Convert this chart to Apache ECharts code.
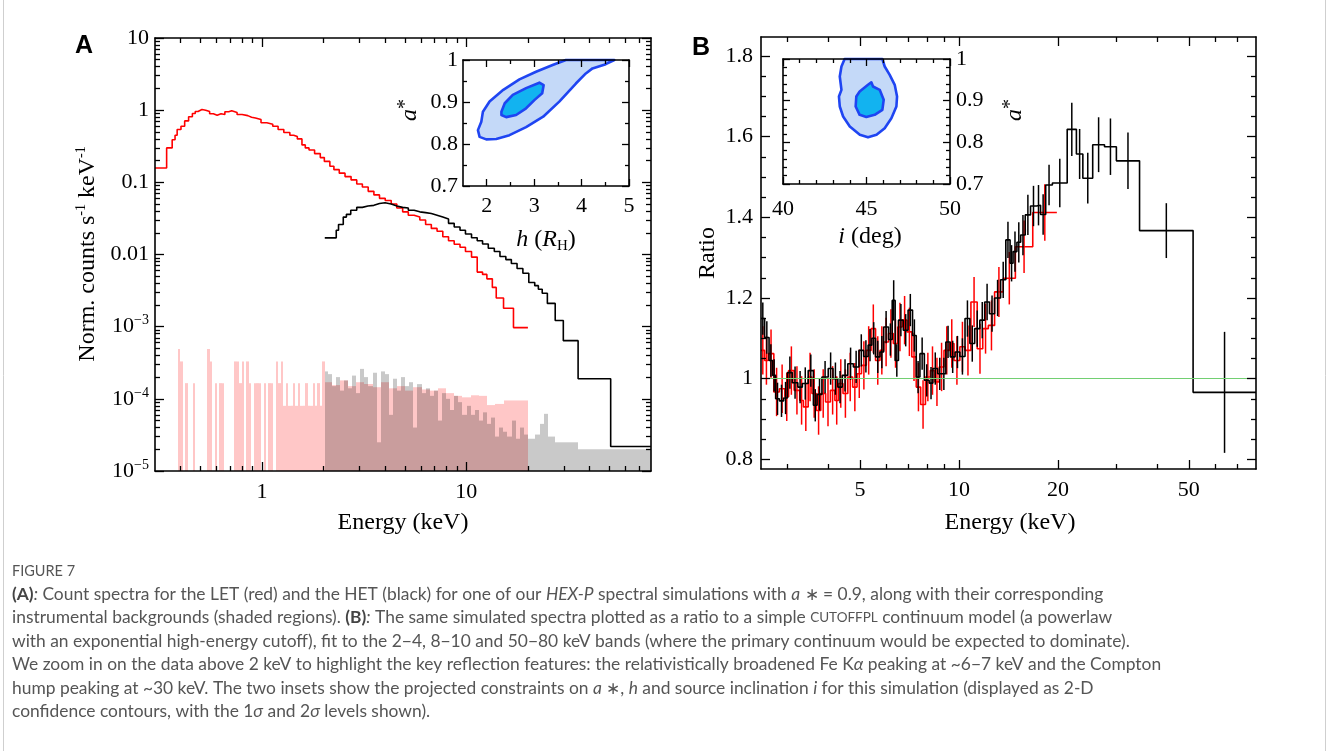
<!DOCTYPE html>
<html><head><meta charset="utf-8">
<script src="https://cdn.jsdelivr.net/npm/echarts@6/dist/echarts.min.js"></script>
<style>html,body{margin:0;padding:0;background:#fff}#c{width:1327px;height:751px}</style>
</head><body><div id="c"></div>
<script>
// ===== Panel A: count spectra (bin edges + values) =====
const letEdges = [0.30,0.342,0.364,0.376,0.385,0.402,0.419,0.438,0.457,0.472,0.487,0.509,0.531,0.555,0.579,0.604,0.631,0.659,0.688,0.712,0.727,0.756,0.80,0.853,0.89,0.93,0.99,1.057,1.13,1.20,1.28,1.37,1.43,1.49,1.57,1.63,1.70,1.81,1.93,2.02,2.15,2.25,2.39,2.55,2.73,2.91,3.10,3.31,3.53,3.76,4.01,4.29,4.57,4.88,5.20,5.55,5.92,6.32,6.74,7.19,7.67,8.18,8.72,9.31,9.9,10.6,11.3,12.0,12.6,13.4,14.0,15.2,17.0,20.0];
const letCounts = [0.158,0.30,0.39,0.45,0.54,0.60,0.71,0.81,0.90,0.96,1.02,1.00,0.96,0.89,0.85,0.89,0.87,0.95,0.98,1.04,0.93,0.87,0.84,0.80,0.78,0.74,0.67,0.64,0.60,0.54,0.49,0.45,0.43,0.40,0.33,0.30,0.28,0.25,0.22,0.195,0.167,0.15,0.134,0.12,0.108,0.095,0.086,0.075,0.067,0.060,0.056,0.050,0.044,0.039,0.035,0.033,0.030,0.026,0.023,0.021,0.0176,0.0155,0.0139,0.0126,0.011,0.0092,0.0057,0.0053,0.0046,0.0035,0.0025,0.0018,0.00097];
const hetEdges = [2.03,2.31,2.37,2.50,2.59,2.72,2.91,3.10,3.30,3.53,3.76,4.0,4.29,4.57,4.88,5.20,5.55,5.92,6.32,6.74,7.19,7.67,8.18,8.72,9.31,9.9,10.6,11.3,12.0,12.8,13.7,14.6,15.6,16.6,17.7,18.9,20.2,21.6,22.5,23.5,24.9,27.2,29.8,35.2,50.8,80];
const hetCounts = [0.017,0.0217,0.026,0.033,0.036,0.041,0.045,0.047,0.048,0.051,0.052,0.050,0.047,0.045,0.044,0.041,0.039,0.038,0.037,0.035,0.033,0.031,0.027,0.024,0.0217,0.0192,0.0171,0.0155,0.014,0.0122,0.011,0.0094,0.0085,0.0075,0.0064,0.0055,0.0041,0.0037,0.0033,0.0029,0.0021,0.00122,0.00064,0.00019,0.0000218];

// instrumental backgrounds (0 = empty bin)
const letBgEdges = [0.388,0.399,0.410,0.421,0.433,0.445,0.458,0.471,0.484,0.497,0.511,0.526,0.540,0.555,0.571,0.587,0.603,0.620,0.637,0.655,0.674,0.693,0.712,0.732,0.752,0.773,0.795,0.817,0.840,0.864,0.888,0.913,0.938,0.964,0.991,1.019,1.048,1.077,1.107,1.138,1.170,1.203,1.236,1.271,1.306,1.343,1.380,1.419,1.459,1.499,1.541,1.585,1.629,1.675,1.721,1.770,1.819,1.870,1.923,1.976,2.03,2.2,2.4,2.64,2.89,3.17,3.48,3.81,4.18,4.58,5.02,5.51,6.04,6.62,7.26,7.96,8.73,9.57,10.5,11.5,12.6,13.8,15.2,16.6,18.2,20.0];
const letBgVals = [4.9e-4,3.3e-4,0,1.65e-4,0,0,1.65e-4,0,0,0,0,0,4.9e-4,3.3e-4,0,1.65e-4,0,1.65e-4,1.65e-4,0,0,0,0,3.3e-4,3.3e-4,1.65e-4,3.3e-4,0,3.3e-4,1.65e-4,0,1.65e-4,1.65e-4,1.65e-4,0,1.65e-4,0,1.65e-4,1.65e-4,0,3.3e-4,1.65e-4,3.3e-4,8e-5,1.65e-4,8e-5,8e-5,1.65e-4,8e-5,1.65e-4,8e-5,8e-5,1.65e-4,8e-5,8e-5,1.65e-4,8e-5,1.65e-4,8e-5,3.3e-4,1.7e-4,1.55e-4,1.8e-4,1.5e-4,1.7e-4,1.6e-4,1.45e-4,1.7e-4,1.4e-4,1.5e-4,1.3e-4,1.45e-4,1.35e-4,1.3e-4,1.4e-4,1.2e-4,1.1e-4,1.05e-4,1.12e-4,1.1e-4,8.2e-5,8.5e-5,9.5e-5,9.5e-5,9.5e-5];
const hetBgEdges = [2.03,2.094,2.193,2.296,2.404,2.518,2.636,2.760,2.890,3.027,3.170,3.319,3.475,3.639,3.811,3.990,4.178,4.375,4.582,4.798,5.024,5.261,5.509,5.768,6.040,6.325,6.623,6.936,7.262,7.605,7.962,8.337,8.730,9.141,9.572,10.02,10.50,10.99,11.51,12.05,12.62,13.22,13.84,14.49,15.17,15.89,16.64,17.42,18.24,19.10,20.0,21.6,22.9,23.9,25.0,27.2,35.2,80];
const hetBgVals = [2.4e-4,2.2e-4,1.5e-4,2.0e-4,1.3e-4,1.8e-4,1.4e-4,2.1e-4,1.2e-4,2.6e-4,2.0e-4,1.5e-4,2.3e-4,2.5e-5,2.4e-4,2.2e-4,6e-5,1.9e-4,1.3e-4,2.0e-4,1.5e-4,1.7e-4,4e-5,1.6e-4,1.2e-4,1.4e-4,1.1e-4,1.3e-4,5e-5,1.2e-4,1.0e-4,7e-5,1.1e-4,9e-5,6e-5,8e-5,6e-5,7e-5,5e-5,6.5e-5,4.5e-5,5.5e-5,3e-5,4e-5,3.5e-5,3e-5,5e-5,2.8e-5,4e-5,3.2e-5,2.8e-5,3.2e-5,4.5e-5,6.2e-5,3.0e-5,2.5e-5,2.0e-5];

// ===== Panel B: ratio spectra =====
const hetRatioEdges = [2.5,2.564,2.645,2.713,2.77,2.843,2.93,3.009,3.112,3.236,3.339,3.479,3.608,3.703,3.83,4.003,4.139,4.281,4.416,4.591,4.773,4.962,5.13,5.293,5.433,5.575,5.751,5.902,6.105,6.265,6.395,6.546,6.771,7.002,7.223,7.413,7.607,7.846,8.115,8.329,8.613,8.87,9.12,9.407,9.73,10.06,10.43,10.79,11.16,11.57,11.97,12.38,12.83,13.38,13.88,14.3,14.6,15.0,15.4,15.9,16.5,17.2,17.7,18.35,19.23,21.33,22.75,23.8,25.5,27.7,30.1,35.4,51.5,80];
const hetRatio = [1.149,1.102,1.045,1.008,0.95,0.945,0.952,1.015,0.99,0.979,0.988,1.02,0.934,0.961,1.004,1.025,1.0,0.979,1.008,1.037,1.029,1.07,1.055,1.083,1.10,1.054,1.066,1.128,1.097,1.194,1.045,1.145,1.12,1.17,1.107,1.004,1.062,0.996,0.989,1.025,1.012,1.012,1.091,1.054,1.066,1.055,1.149,1.087,1.124,1.145,1.19,1.161,1.20,1.245,1.344,1.286,1.315,1.338,1.356,1.406,1.428,1.43,1.407,1.48,1.485,1.618,1.557,1.497,1.58,1.575,1.54,1.367,0.966];
const hetRatioErr = [
  0.04,0.04,0.04,0.04,0.04,0.04,0.04,0.04,0.04,0.04,
  0.04,0.04,0.04,0.04,0.04,0.04,0.04,0.04,0.04,0.04,
  0.04,0.04,0.04,0.04,0.04,0.04,0.04,0.04,0.04,0.05,
  0.04,0.04,0.04,0.04,0.04,0.04,0.04,0.04,0.04,0.04,
  0.04,0.04,0.04,0.04,0.04,
  0.045,0.045,0.045,0.045,0.045,0.045,0.045,0.045,0.045,0.045,0.045,
  0.05,0.05,0.05,0.05,0.05,0.05,0.05,0.05,
  0.06,0.066,0.062,0.063,0.068,0.07,0.07,0.068,0.15];
const letRatioEdges = [2.5,2.564,2.63,2.735,2.843,2.955,3.033,3.153,3.279,3.365,3.479,3.571,3.684,3.80,3.93,4.064,4.193,4.303,4.439,4.591,4.749,4.898,5.052,5.225,5.403,5.575,5.751,5.902,6.105,6.313,6.512,6.718,6.948,7.185,7.413,7.645,7.907,8.178,8.437,8.704,9.002,9.359,9.655,10.06,10.43,10.87,11.36,11.81,12.28,12.83,13.63,14.84,16.76,19.84];
const letRatio = [1.07,1.045,1.062,0.967,0.975,0.955,1.02,0.971,0.946,0.93,1.004,0.963,0.921,0.963,0.942,0.971,0.946,0.988,0.963,1.004,0.979,1.012,1.033,1.07,1.124,1.045,1.07,1.091,1.112,1.087,1.128,1.145,1.116,1.054,0.979,0.936,1.004,1.02,0.992,1.029,1.07,1.087,1.045,1.079,1.07,1.19,1.074,1.124,1.132,1.215,1.249,1.327,1.412];
const letRatioErr = [
  0.06,0.06,0.06,0.06,0.06,0.06,0.06,0.06,0.06,0.06,
  0.06,0.06,0.06,0.06,0.06,0.06,0.06,0.06,0.06,0.06,
  0.06,0.06,0.06,0.06,0.06,0.06,0.06,0.06,0.06,0.06,
  0.06,0.06,0.06,0.06,0.06,0.06,0.06,0.06,0.06,0.06,
  0.06,0.06,0.06,
  0.062,0.062,0.062,0.062,0.062,0.062,0.062,
  0.065,0.065,0.07];
const unityRatio = 1;

// ===== Insets: 1-sigma / 2-sigma contours =====
const inAOuterH = [1.815,1.886,1.92,2.06,2.35,2.69,3.04,3.39,3.67,4.66,4.69,4.51,4.23,4.09,3.88,3.53,3.19,2.83,2.48,2.2,1.99,1.85];
const inAOuterA = [0.833,0.853,0.877,0.901,0.929,0.954,0.972,0.988,1.0,1.0,1.0,0.99,0.98,0.968,0.944,0.901,0.865,0.84,0.821,0.812,0.811,0.817];
const inAInnerH = [2.31,2.38,2.55,2.83,3.11,3.2,3.17,3.01,2.83,2.62,2.41,2.31];
const inAInnerA = [0.877,0.897,0.917,0.933,0.946,0.94,0.921,0.905,0.885,0.869,0.864,0.869];
const inBOuterI = [43.69,43.5,43.4,43.5,43.35,43.4,43.6,44.0,44.6,45.09,45.6,46.09,46.49,46.79,46.83,46.69,46.39,46.09,45.95];
const inBOuterA = [1.0,0.982,0.958,0.926,0.91,0.886,0.862,0.838,0.818,0.812,0.818,0.834,0.858,0.886,0.91,0.938,0.962,0.982,1.0];
const inBInnerI = [44.39,44.59,45.09,45.29,45.39,45.79,46.03,45.95,45.49,44.99,44.59,44.35];
const inBInnerA = [0.91,0.922,0.938,0.944,0.934,0.926,0.902,0.878,0.866,0.861,0.866,0.886];

// ===== Ticks and tick labels =====
const aXMajor = [1, 10];
const aXMajorText = ['1', '10'];
const aXMinor = [0.4,0.5,0.6,0.7,0.8,0.9,2,3,4,5,6,7,8,9,20,30,40,50,60,70];
const aYMajor = [1e-5,1e-4,1e-3,0.01,0.1,1,10];
const aYMajorText = ['{b|10}{s|\u22125}','{b|10}{s|\u22124}','{b|10}{s|\u22123}','0.01','0.1','1','10'];
const aYMinor = [2e-5,3e-5,4e-5,5e-5,6e-5,7e-5,8e-5,9e-5,2e-4,3e-4,4e-4,5e-4,6e-4,7e-4,8e-4,9e-4,2e-3,3e-3,4e-3,5e-3,6e-3,7e-3,8e-3,9e-3,0.02,0.03,0.04,0.05,0.06,0.07,0.08,0.09,0.2,0.3,0.4,0.5,0.6,0.7,0.8,0.9,2,3,4,5,6,7,8,9];
const bXMajor = [5,10,20,50];
const bXMajorText = ['5','10','20','50'];
const bXMinor = [3,4,6,7,8,9,30,40,60,70];
const bYMajor = [0.8,1,1.2,1.4,1.6,1.8];
const bYMajorText = ['0.8','1','1.2','1.4','1.6','1.8'];
const bYMinor = [0.85,0.9,0.95,1.05,1.1,1.15,1.25,1.3,1.35,1.45,1.5,1.55,1.65,1.7,1.75];
const iaXMajor = [2,3,4,5], iaXMinor = [2.5,3.5,4.5];
const iaYMajor = [0.7,0.8,0.9,1], iaYMinor = [0.75,0.85,0.95];
const ibXMajor = [40,45,50], ibXMinor = [41,42,43,44,46,47,48,49];
const ibYMajor = [0.7,0.8,0.9,1], ibYMinor = [0.72,0.74,0.76,0.78,0.82,0.84,0.86,0.88,0.92,0.94,0.96,0.98];

const captionLines = [
 '{b|(A)}{it|:}{n| Count spectra for the LET (red) and the HET (black) for one of our }{it|HEX-P}{n| spectral simulations with }{it|a}{n| \u2217 = 0.9, along with their corresponding}',
 '{n|instrumental backgrounds (shaded regions). }{b|(B)}{it|:}{n| The same simulated spectra plotted as a ratio to a simple }{sc|CUTOFFPL}{n| continuum model (a powerlaw}',
 '{n|with an exponential high-energy cutoff), fit to the 2\u22124, 8\u221210 and 50\u221280 keV bands (where the primary continuum would be expected to dominate).}',
 '{n|We zoom in on the data above 2 keV to highlight the key reflection features: the relativistically broadened Fe K}{it|\u03b1}{n| peaking at ~6\u22127 keV and the Compton}',
 '{n|hump peaking at ~30 keV. The two insets show the projected constraints on }{it|a}{n| \u2217, }{it|h}{n| and source inclination }{it|i}{n| for this simulation (displayed as 2-D}',
 '{n|confidence contours, with the 1}{it|\u03c3}{n| and 2}{it|\u03c3}{n| levels shown).}'
];

// ===== build =====
const SERIF = 'Liberation Serif';
const lg = a => a.map(v => Math.log10(v));
function stepData(edges, vals) {
  const n = Math.min(vals.length, edges.length - 1);
  const d = [];
  for (let i = 0; i < n; i++) d.push([edges[i], vals[i]]);
  d.push([edges[n], vals[n - 1]]);
  return d;
}
function binData(edges, vals) {
  const d = [];
  for (let i = 0; i < vals.length && i + 1 < edges.length; i++) if (vals[i] > 0) d.push([edges[i], edges[i + 1], vals[i]]);
  return d;
}
function errData(edges, vals, errs) {
  const d = [];
  for (let i = 0; i < vals.length && i + 1 < edges.length && i < errs.length; i++) d.push([Math.sqrt(edges[i] * edges[i + 1]), vals[i] - errs[i], vals[i] + errs[i]]);
  return d;
}
function labelFmt(ticks, texts, isLog) {
  return v => {
    let best = 0, bd = Infinity;
    ticks.forEach((t, i) => { const tv = isLog ? Math.log10(t) : t; const dd = Math.abs(tv - v); if (dd < bd) { bd = dd; best = i; } });
    return texts[best];
  };
}
const xAxes = [], yAxes = [];
function addAxis(list, o) { list.push(o); return list.length - 1; }
function dataAxis(type, grid, min, max) {
  return { type, logBase: 10, gridIndex: grid, min, max, axisLine: {show: false, onZero: false}, axisTick: {show: false},
    axisLabel: {show: false}, splitLine: {show: false}, axisPointer: {show: false} };
}
function tickAxis(grid, position, min, max, ticks, len, line, label) {
  const ax = { type: 'value', gridIndex: grid, position, min, max, z: 6, silent: true,
    axisLine: {show: !!line, onZero: false, lineStyle: {color: '#000', width: 1.6}},
    splitLine: {show: false}, axisPointer: {show: false},
    axisTick: {show: true, inside: true, length: len, customValues: ticks, lineStyle: {color: '#000', width: 1.3}},
    axisLabel: {show: false} };
  if (label) ax.axisLabel = Object.assign({show: true, customValues: ticks, color: '#000', fontFamily: SERIF, fontSize: 22}, label);
  return ax;
}

const grids = [
  {left: 155, top: 38, width: 496, height: 433},
  {left: 463, top: 60, width: 166, height: 126, show: true, backgroundColor: '#fff', borderWidth: 0},
  {left: 761, top: 37, width: 495, height: 432},
  {left: 783, top: 59, width: 167, height: 125, show: true, backgroundColor: '#fff', borderWidth: 0}
];

// Panel A axes
const aX = addAxis(xAxes, dataAxis('log', 0, 0.3, 80));
const aY = addAxis(yAxes, dataAxis('log', 0, 1e-5, 10));
const aLx = [Math.log10(0.3), Math.log10(80)], aLy = [-5, 1];
addAxis(xAxes, tickAxis(0, 'bottom', aLx[0], aLx[1], lg(aXMajor), 9, true, {margin: 10, formatter: labelFmt(aXMajor, aXMajorText, true)}));
addAxis(xAxes, tickAxis(0, 'bottom', aLx[0], aLx[1], lg(aXMinor), 5));
addAxis(xAxes, tickAxis(0, 'top', aLx[0], aLx[1], lg(aXMajor), 9, true));
addAxis(xAxes, tickAxis(0, 'top', aLx[0], aLx[1], lg(aXMinor), 5));
addAxis(yAxes, tickAxis(0, 'left', aLy[0], aLy[1], lg(aYMajor), 9, true, {margin: 6, formatter: labelFmt(aYMajor, aYMajorText, true),
  rich: {b: {fontFamily: SERIF, fontSize: 22, color: '#000', lineHeight: 26}, s: {fontFamily: SERIF, fontSize: 14, color: '#000', lineHeight: 14, verticalAlign: 'top'}}}));
addAxis(yAxes, tickAxis(0, 'left', aLy[0], aLy[1], lg(aYMinor), 5));
addAxis(yAxes, tickAxis(0, 'right', aLy[0], aLy[1], lg(aYMajor), 9, true));
addAxis(yAxes, tickAxis(0, 'right', aLy[0], aLy[1], lg(aYMinor), 5));

// Inset A axes
const iaX = addAxis(xAxes, tickAxis(1, 'bottom', 1.5, 5, iaXMajor, 7, true, {margin: 9}));
addAxis(xAxes, tickAxis(1, 'bottom', 1.5, 5, iaXMinor, 4));
addAxis(xAxes, tickAxis(1, 'top', 1.5, 5, iaXMajor, 7, true));
addAxis(xAxes, tickAxis(1, 'top', 1.5, 5, iaXMinor, 4));
const iaY = addAxis(yAxes, tickAxis(1, 'left', 0.7, 1.0, iaYMajor, 7, true, {margin: 5}));
addAxis(yAxes, tickAxis(1, 'left', 0.7, 1.0, iaYMinor, 4));
addAxis(yAxes, tickAxis(1, 'right', 0.7, 1.0, iaYMajor, 7, true));
addAxis(yAxes, tickAxis(1, 'right', 0.7, 1.0, iaYMinor, 4));

// Panel B axes
const bX = addAxis(xAxes, dataAxis('log', 2, 2.5, 80));
const bLx = [Math.log10(2.5), Math.log10(80)];
addAxis(xAxes, tickAxis(2, 'bottom', bLx[0], bLx[1], lg(bXMajor), 9, true, {margin: 10, formatter: labelFmt(bXMajor, bXMajorText, true)}));
addAxis(xAxes, tickAxis(2, 'bottom', bLx[0], bLx[1], lg(bXMinor), 5));
addAxis(xAxes, tickAxis(2, 'top', bLx[0], bLx[1], lg(bXMajor), 9, true));
addAxis(xAxes, tickAxis(2, 'top', bLx[0], bLx[1], lg(bXMinor), 5));
const bY = addAxis(yAxes, tickAxis(2, 'left', 0.776, 1.847, bYMajor, 9, true, {margin: 8, formatter: labelFmt(bYMajor, bYMajorText, false)}));
addAxis(yAxes, tickAxis(2, 'left', 0.776, 1.847, bYMinor, 5));
addAxis(yAxes, tickAxis(2, 'right', 0.776, 1.847, bYMajor, 9, true));
addAxis(yAxes, tickAxis(2, 'right', 0.776, 1.847, bYMinor, 5));

// Inset B axes
const ibX = addAxis(xAxes, tickAxis(3, 'bottom', 40, 50, ibXMajor, 7, true, {margin: 14}));
addAxis(xAxes, tickAxis(3, 'bottom', 40, 50, ibXMinor, 4));
addAxis(xAxes, tickAxis(3, 'top', 40, 50, ibXMajor, 7, true));
addAxis(xAxes, tickAxis(3, 'top', 40, 50, ibXMinor, 4));
const ibY = addAxis(yAxes, tickAxis(3, 'right', 0.7, 1.0, ibYMajor, 7, true, {margin: 6}));
addAxis(yAxes, tickAxis(3, 'right', 0.7, 1.0, ibYMinor, 4));
addAxis(yAxes, tickAxis(3, 'left', 0.7, 1.0, ibYMajor, 7, true));
addAxis(yAxes, tickAxis(3, 'left', 0.7, 1.0, ibYMinor, 4));

function bgSeries(edges, vals, fill, z) {
  return { type: 'custom', xAxisIndex: aX, yAxisIndex: aY, z, silent: true, data: binData(edges, vals),
    encode: {x: [0, 1], y: 2},
    renderItem(params, api) {
      const p = api.coord([api.value(0), api.value(2)]);
      const q = api.coord([api.value(1), 1e-5]);
      const x0 = Math.round(p[0]), x1 = Math.round(q[0]);
      return {type: 'rect', shape: {x: x0, y: p[1], width: Math.max(1, x1 - x0), height: q[1] - p[1]}, style: {fill}};
    } };
}
function stepSeries(edges, vals, color, xi, yi, z, extra) {
  return Object.assign({ type: 'line', step: 'end', xAxisIndex: xi, yAxisIndex: yi, z, data: stepData(edges, vals),
    showSymbol: false, symbol: 'none', silent: true, lineStyle: {color, width: 1.6}, itemStyle: {color} }, extra || {});
}
function errSeries(edges, vals, errs, color, z) {
  return { type: 'custom', xAxisIndex: bX, yAxisIndex: bY, z, silent: true, data: errData(edges, vals, errs),
    encode: {x: 0, y: [1, 2]},
    renderItem(params, api) {
      const a = api.coord([api.value(0), api.value(1)]);
      const b = api.coord([api.value(0), api.value(2)]);
      return {type: 'line', shape: {x1: a[0], y1: a[1], x2: b[0], y2: b[1]}, style: {stroke: color, lineWidth: 1.5}};
    } };
}
function contourSeries(xs, ys, fill, xi, yi, z) {
  const pts = xs.map((x, i) => [x, ys[i]]);
  return { type: 'custom', xAxisIndex: xi, yAxisIndex: yi, z, silent: true, data: pts, encode: {x: 0, y: 1},
    renderItem(params, api) {
      if (params.dataIndex !== 0) return null;
      return {type: 'polygon', shape: {points: pts.map(p => api.coord(p))}, style: {fill, stroke: '#1f45f2', lineWidth: 2.6, lineJoin: 'round'}};
    } };
}

const series = [
  bgSeries(letBgEdges, letBgVals, 'rgba(255,0,0,0.22)', 1),
  bgSeries(hetBgEdges, hetBgVals, 'rgba(0,0,0,0.21)', 1),
  stepSeries(letEdges, letCounts, '#ff0000', aX, aY, 3),
  stepSeries(hetEdges, hetCounts, '#000000', aX, aY, 3),
  contourSeries(inAOuterH, inAOuterA, '#c4d9f8', iaX, iaY, 3),
  contourSeries(inAInnerH, inAInnerA, '#12b3f0', iaX, iaY, 4),
  stepSeries(letRatioEdges, letRatio, '#ff0000', bX, bY, 3, {
    markLine: {silent: true, symbol: 'none', label: {show: false}, animation: false,
      lineStyle: {color: '#72cf72', width: 1, type: 'solid'}, data: [{yAxis: unityRatio}]}}),
  errSeries(letRatioEdges, letRatio, letRatioErr, '#ff0000', 3),
  stepSeries(hetRatioEdges, hetRatio, '#000000', bX, bY, 4),
  errSeries(hetRatioEdges, hetRatio, hetRatioErr, '#000000', 4),
  contourSeries(inBOuterI, inBOuterA, '#c4d9f8', ibX, ibY, 3),
  contourSeries(inBInnerI, inBInnerA, '#12b3f0', ibX, ibY, 4)
];

function txt(x, y, text, rich, extra) {
  return Object.assign({ type: 'text', x, y, z: 100, silent: true,
    style: Object.assign({ text, rich, align: 'center', verticalAlign: 'middle', fill: '#000', fontFamily: SERIF, fontSize: 24 }, (extra && extra.style) || {}) },
    extra ? {rotation: extra.rotation || 0} : {});
}
const richSerif = {
  n: {fontFamily: SERIF, fontSize: 24, fill: '#000', lineHeight: 28},
  i: {fontFamily: SERIF, fontSize: 24, fontStyle: 'italic', fill: '#000', lineHeight: 28},
  s: {fontFamily: SERIF, fontSize: 14, fill: '#000', lineHeight: 14, verticalAlign: 'top'},
  sub: {fontFamily: SERIF, fontSize: 15, fill: '#000', lineHeight: 15, verticalAlign: 'bottom'},
  st: {fontFamily: SERIF, fontSize: 20, fill: '#000', lineHeight: 16, verticalAlign: 'top'}
};
const CAP = 'Lato';
const CAPSIZE = 17.4;
const richCap = {
  n: {fontFamily: CAP, fontSize: CAPSIZE, fill: '#555'},
  b: {fontFamily: CAP, fontSize: CAPSIZE, fontWeight: 'bold', fill: '#444'},
  it: {fontFamily: CAP, fontSize: CAPSIZE, fontStyle: 'italic', fill: '#555'},
  sc: {fontFamily: CAP, fontSize: 13.5, fill: '#555'}
};
const graphics = [
  {type: 'line', z: 100, silent: true, shape: {x1: 3.5, y1: 0, x2: 3.5, y2: 751}, style: {stroke: '#cfcfcf', lineWidth: 1}},
  {type: 'line', z: 100, silent: true, shape: {x1: 1325.5, y1: 0, x2: 1325.5, y2: 751}, style: {stroke: '#cfcfcf', lineWidth: 1}},
  txt(84, 46, 'A', null, {style: {fontFamily: 'Liberation Sans', fontWeight: 'bold', fontSize: 25}}),
  txt(701, 48, 'B', null, {style: {fontFamily: 'Liberation Sans', fontWeight: 'bold', fontSize: 25}}),
  txt(88, 254, '{n|Norm. counts s}{s|-1}{n| keV}{s|-1}', richSerif, {rotation: Math.PI / 2}),
  txt(403, 523, 'Energy (keV)', null),
  txt(1010, 523, 'Energy (keV)', null),
  txt(708, 253, 'Ratio', null, {rotation: Math.PI / 2}),
  txt(410, 110, '{i|a}{st|*}', richSerif, {rotation: Math.PI / 2}),
  txt(546, 240, '{i|h}{n| (}{i|R}{sub|H}{n|)}', richSerif),
  txt(870, 237, '{i|i}{n| (deg)}', richSerif),
  txt(1015, 110, '{i|a}{st|*}', richSerif, {rotation: Math.PI / 2}),
  {type: 'text', x: 12, y: 571, z: 100, silent: true, style: {text: 'FIGURE 7', fontFamily: CAP, fontSize: 14.5, fill: '#555', verticalAlign: 'middle', align: 'left'}}
];
captionLines.forEach((line, k) => {
  graphics.push({type: 'text', x: 12, y: 594 + k * 23.5, z: 100, silent: true,
    style: {text: line, rich: richCap, fontFamily: CAP, fontSize: CAPSIZE, fill: '#555', verticalAlign: 'middle', align: 'left'}});
});

const chart = echarts.init(document.getElementById('c'), null, {renderer: 'canvas', width: 1327, height: 751});
chart.setOption({
  animation: false,
  backgroundColor: '#fff',
  grid: grids,
  xAxis: xAxes,
  yAxis: yAxes,
  series,
  graphic: graphics
});
</script></body></html>
